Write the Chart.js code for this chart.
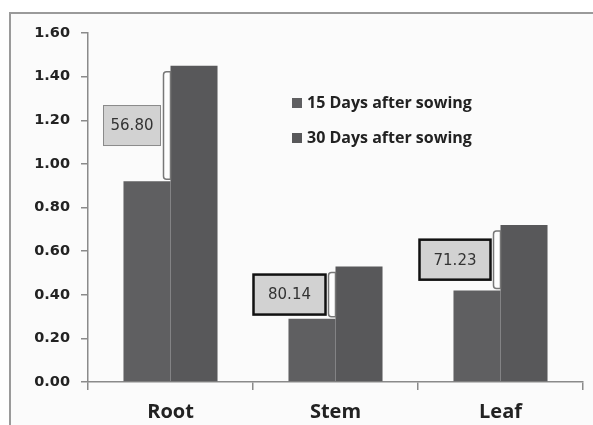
<!DOCTYPE html>
<html><head><meta charset="utf-8">
<script src="https://cdn.jsdelivr.net/npm/chart.js@4/dist/chart.umd.min.js"></script>
<style>
html,body{margin:0;padding:0;background:#fff;}
#wrap{width:593px;height:425px;position:relative;}
</style></head>
<body><div id="wrap"><canvas id="c" width="593" height="425"></canvas></div>
<script>
const categories = ["Root", "Stem", "Leaf"];
const seriesNames = ["15 Days after sowing", "30 Days after sowing"];
const days15 = [0.92, 0.29, 0.42];
const days30 = [1.45, 0.53, 0.72];
const increaseLabels = ["56.80", "80.14", "71.23"];
const yTicks = [0, 0.2, 0.4, 0.6, 0.8, 1.0, 1.2, 1.4, 1.6];

const barColors = ["#5f5f61", "#58585a"];
const boxStyles = [
  {w: 57, lw: 1, stroke: "#8a8a8a"},
  {w: 72, lw: 2.5, stroke: "#111"},
  {w: 71, lw: 2.5, stroke: "#111"}
];

const frame = {
  id: "frame",
  beforeDraw(chart) {
    const ctx = chart.ctx;
    ctx.save();
    ctx.fillStyle = "#fbfbfb";
    ctx.fillRect(10, 13, chart.width - 10, chart.height - 13);
    ctx.strokeStyle = "#9a9a9a";
    ctx.lineWidth = 2;
    ctx.beginPath();
    ctx.moveTo(10, chart.height);
    ctx.lineTo(10, 13);
    ctx.lineTo(chart.width, 13);
    ctx.stroke();
    ctx.restore();
  }
};

function rr(ctx, x, y, w, h, r) {
  ctx.beginPath();
  ctx.moveTo(x + r, y);
  ctx.lineTo(x + w, y);
  ctx.lineTo(x + w, y + h);
  ctx.lineTo(x + r, y + h);
  ctx.quadraticCurveTo(x, y + h, x, y + h - r);
  ctx.lineTo(x, y + r);
  ctx.quadraticCurveTo(x, y, x + r, y);
  ctx.closePath();
}

const annot = {
  id: "annot",
  afterDatasetsDraw(chart) {
    const ctx = chart.ctx;
    const m0 = chart.getDatasetMeta(0).data;
    const m1 = chart.getDatasetMeta(1).data;
    ctx.save();
    categories.forEach((c, i) => {
      const b0 = m0[i], b1 = m1[i];
      const bx = b1.x - b1.width / 2;
      const yTop = b1.y + 6, yBot = b0.y - 2;
      ctx.fillStyle = "#fdfdfd";
      ctx.strokeStyle = "#777";
      ctx.lineWidth = 1.5;
      rr(ctx, bx - 7, yTop, 7, yBot - yTop, 3);
      ctx.fill(); ctx.stroke();
      const st = boxStyles[i];
      const cy = (yTop + yBot) / 2;
      const h = 40;
      const x1 = bx - 10, x0 = x1 - st.w;
      ctx.fillStyle = "#d2d2d2";
      ctx.fillRect(x0, cy - h / 2, st.w, h);
      ctx.strokeStyle = st.stroke;
      ctx.lineWidth = st.lw;
      ctx.strokeRect(x0, cy - h / 2, st.w, h);
      ctx.fillStyle = "#333";
      ctx.font = "15px 'DejaVu Sans'";
      ctx.textAlign = "center";
      ctx.textBaseline = "middle";
      ctx.fillText(increaseLabels[i], (x0 + x1) / 2, cy + 1);
    });
    ctx.textAlign = "left";
    ctx.textBaseline = "middle";
    ctx.font = "bold 16px 'Open Sans'";
    seriesNames.forEach((n, j) => {
      const y = 103 + j * 35;
      ctx.fillStyle = barColors[j];
      ctx.fillRect(292, y - 5, 10, 10);
      ctx.fillStyle = "#222";
      ctx.fillText(n, 307, y);
    });
    ctx.restore();
  }
};

new Chart(document.getElementById("c"), {
  type: "bar",
  data: {
    labels: categories,
    datasets: [
      {label: seriesNames[0], data: days15, backgroundColor: barColors[0], barPercentage: 1, categoryPercentage: 0.57},
      {label: seriesNames[1], data: days30, backgroundColor: barColors[1], barPercentage: 1, categoryPercentage: 0.57}
    ]
  },
  options: {
    responsive: false,
    animation: false,
    devicePixelRatio: 1,
    layout: {padding: {left: 10, right: 10, top: 33, bottom: 0}},
    plugins: {legend: {display: false}, tooltip: {enabled: false}},
    scales: {
      x: {
        grid: {display: true, drawOnChartArea: false, offset: true, tickLength: 8, color: "#8a8a8a", lineWidth: 1.5},
        border: {color: "#8a8a8a", width: 1.5},
        ticks: {color: "#222", font: {family: "Open Sans", weight: "bold", size: 20}, padding: 10},
        afterFit(s) { s.height = 43; }
      },
      y: {
        min: 0, max: 1.6,
        afterBuildTicks(s) { s.ticks = yTicks.map(v => ({value: v})); },
        grid: {display: true, drawOnChartArea: false, tickLength: 7, color: "#8a8a8a", lineWidth: 1.5},
        border: {color: "#8a8a8a", width: 1.5},
        ticks: {color: "#222", font: {family: "DejaVu Sans", weight: "bold", size: 14.5}, padding: 11,
          callback: v => Number(v).toFixed(2)},
        afterFit(s) { s.width = 78; }
      }
    }
  },
  plugins: [frame, annot]
});
</script></body></html>
